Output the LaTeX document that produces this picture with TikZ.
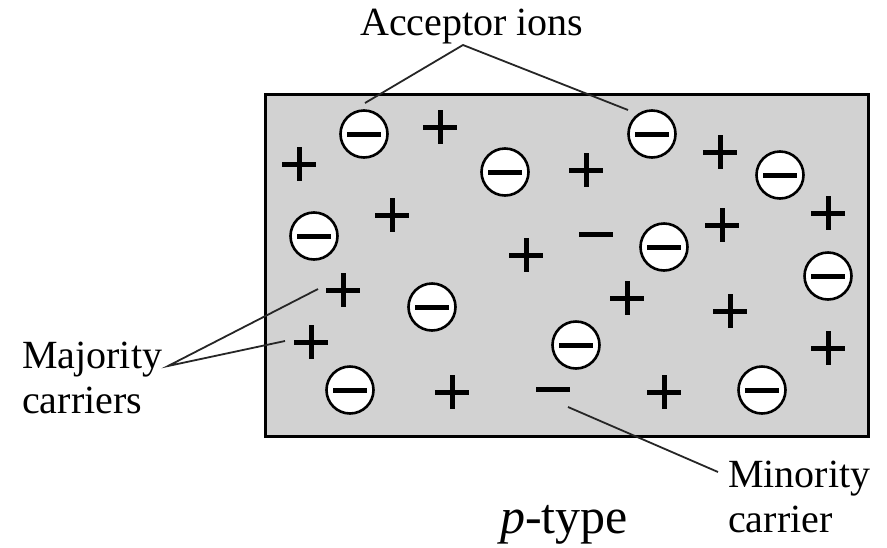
\documentclass[tikz,border=0pt]{standalone}
\usepackage{fontspec}
\setmainfont{Liberation Serif}
\usetikzlibrary{calc}
\definecolor{boxgray}{RGB}{210,210,210}
\tikzset{
  ion/.style={circle, draw=black, line width=2.6pt, fill=white, inner sep=0pt, minimum size=47pt},
  plussign/.style={inner sep=0pt, minimum size=34pt,
    path picture={\draw[line width=5pt] (path picture bounding box.west) -- (path picture bounding box.east)
      (path picture bounding box.north) -- (path picture bounding box.south);}},
  minussign/.style={fill=black, inner sep=0pt, minimum width=34pt, minimum height=5pt},
  leader/.style={line width=1.8pt, draw=black!85},
  lbl/.style={inner sep=0pt, anchor=base west, align=left, font=\fontsize{40}{45}\selectfont}
}
\newcommand{\ionbar}{\rule[-2.5pt]{34pt}{5pt}}
\begin{document}
\begin{tikzpicture}[x=1pt,y=-1pt]
\useasboundingbox (0,0) rectangle (887,547);
% semiconductor block
\node[draw=black, line width=2.5pt, fill=boxgray, inner sep=0pt, minimum width=603pt, minimum height=342pt, anchor=north west] (blk) at (264,93) {};
% acceptor ions
\node[ion] (c1) at (364,134) {\ionbar};
\node[ion] (c2) at (505,172) {\ionbar};
\node[ion] (c3) at (652,134) {\ionbar};
\node[ion] (c4) at (780,175) {\ionbar};
\node[ion] (c5) at (314,236) {\ionbar};
\node[ion] (c6) at (664,247) {\ionbar};
\node[ion] (c7) at (828,276) {\ionbar};
\node[ion] (c8) at (432,307) {\ionbar};
\node[ion] (c9) at (576,345) {\ionbar};
\node[ion] (c10) at (350,390) {\ionbar};
\node[ion] (c11) at (762,390) {\ionbar};
% holes
\node[plussign] (p1) at (440,127) {};
\node[plussign] (p2) at (299,164) {};
\node[plussign] (p3) at (586,170) {};
\node[plussign] (p4) at (720,152) {};
\node[plussign] (p5) at (392,215) {};
\node[plussign] (p6) at (526,255) {};
\node[plussign] (p7) at (722,225) {};
\node[plussign] (p8) at (828,213) {};
\node[plussign] (p9) at (343,290) {};
\node[plussign] (p10) at (627,298) {};
\node[plussign] (p11) at (730,311) {};
\node[plussign] (p12) at (311,342) {};
\node[plussign] (p13) at (828,348) {};
\node[plussign] (p14) at (452,392) {};
\node[plussign] (p15) at (664,392) {};
% free electrons
\node[minussign] (m1) at (596,234) {};
\node[minussign] (m2) at (553,389) {};
% labels (base anchor = last line's baseline)
\node[lbl] (acc) at (360,35) {Acceptor ions};
\node[lbl] (maj) at (22,413) {Majority\\carriers};
\node[lbl] (mino) at (728,532) {Minority\\carrier};
\node[inner sep=0pt, anchor=base west, font=\fontsize{50}{55}\selectfont] (ptype) at (500,533) {\textit{p}-type};
% leaders
\coordinate (accA) at (463,45);
\coordinate (accL) at (365,103);
\coordinate (accR) at (628,110);
\draw[leader] (accL) -- (accA) -- (accR);
\coordinate (majA) at (168,366);
\coordinate (majU) at (318,289);
\coordinate (majD) at (285,341);
\draw[leader] (majU) -- (majA) -- (majD);
\coordinate (minA) at (718,472);
\coordinate (minE) at (568,407);
\draw[leader] (minE) -- (minA);
\end{tikzpicture}
\end{document}
